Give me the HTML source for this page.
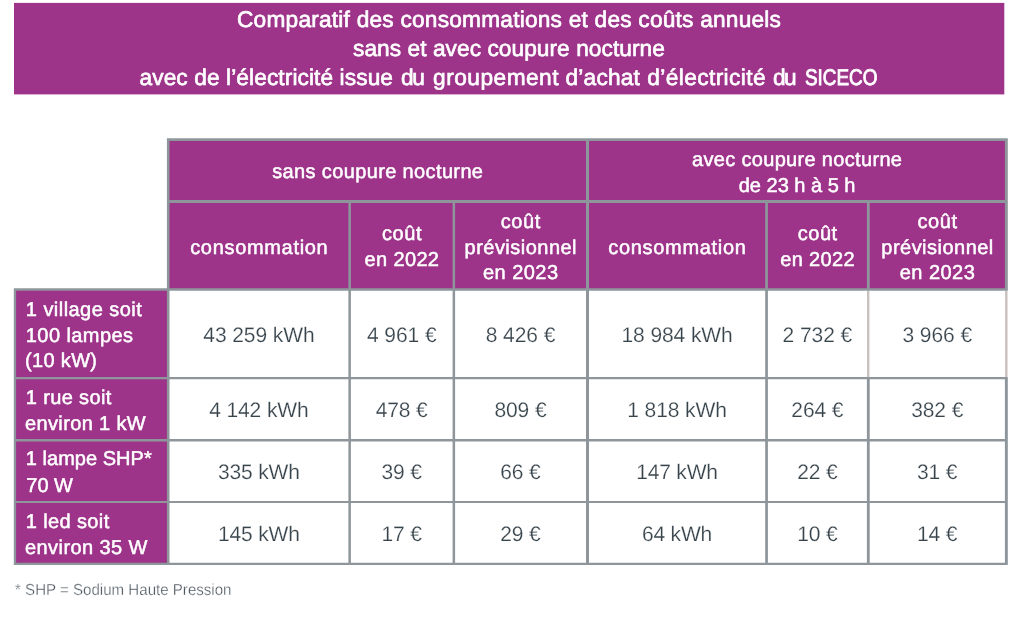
<!DOCTYPE html>
<html lang="fr"><head><meta charset="utf-8"><title>Comparatif des consommations</title>
<style>
html,body{margin:0;padding:0;background:#fff}
body{width:1024px;height:623px;position:relative;overflow:hidden;font-family:"Liberation Sans",sans-serif}
svg{position:absolute;left:0;top:0}
.t{position:absolute;white-space:nowrap;margin:0;text-rendering:geometricPrecision}
.ti{color:#fff;-webkit-text-stroke:0.65px #fff}
.hd,.rh{color:#fff;-webkit-text-stroke:0.5px #fff}
.da{color:#38444c;-webkit-text-stroke:0.2px #fff}
.fn{color:#48535b;-webkit-text-stroke:0.3px #fff}
</style></head><body>
<svg width="1024" height="623" viewBox="0 0 1024 623">
<rect x="14" y="2.9" width="990.3" height="91.5" fill="#9d348a"/>
<rect x="168" y="139.5" width="838" height="150" fill="#9d348a"/>
<rect x="15" y="289" width="153" height="274.5" fill="#9d348a"/>
<rect x="867.0" y="290.8" width="2.4" height="86.20" fill="#c9c1c0"/>
<rect x="1005.1" y="290.8" width="2.4" height="86.20" fill="#c9c1c0"/>
<path fill="#8e969b" d="M13.8 288.2H16.1V565H13.8ZM166.9 138.3H169.5V565H166.9ZM586 138.3H589V565H586ZM348.4 199.95H350.9V565H348.4ZM452.6 199.95H455.1V565H452.6ZM765.2 199.95H767.9V565H765.2ZM866.9 199.95H869.7V290.8H866.9ZM866.9 377H869.7V565H866.9ZM1004.9 138.3H1007.8V290.8H1004.9ZM1004.9 377H1007.8V565H1004.9ZM166.9 138.3H1007.8V140.9H166.9ZM166.9 199.95H1007.8V202.9H166.9ZM13.8 288.2H1007.8V290.8H13.8ZM13.8 377H1007.8V379.2H13.8ZM13.8 439.1H1007.8V441.4H13.8ZM13.8 500.9H1007.8V503H13.8ZM13.8 562.7H1007.8V565H13.8Z"/>
</svg>
<div class="t ti" style="left:237.00px;top:6px;font-size:22.7px;line-height:27px;letter-spacing:0.219px;">Comparatif des consommations et des coûts annuels</div>
<div class="t ti" style="left:353.00px;top:35px;font-size:22.7px;line-height:27px;letter-spacing:0.056px;">sans et avec coupure nocturne</div>
<div class="t ti" style="left:139.50px;top:64px;font-size:22.7px;line-height:27px;letter-spacing:0.097px;">avec de l’électricité issue</div>
<div class="t ti" style="left:401.00px;top:64px;font-size:22.7px;line-height:27px;letter-spacing:-1.250px;">du</div>
<div class="t ti" style="left:433.10px;top:64px;font-size:22.7px;line-height:27px;letter-spacing:0.483px;">groupement</div>
<div class="t ti" style="left:565.50px;top:64px;font-size:22.7px;line-height:27px;letter-spacing:0.200px;">d’achat</div>
<div class="t ti" style="left:647.25px;top:64px;font-size:22.7px;line-height:27px;letter-spacing:0.400px;">d’électricité</div>
<div class="t ti" style="left:773.00px;top:64px;font-size:22.7px;line-height:27px;letter-spacing:-1.500px;">du</div>
<div class="t ti" style="left:805.10px;top:64px;font-size:22.7px;line-height:27px;letter-spacing:0.000px;-webkit-text-stroke-width:0.85px;transform-origin:0 0;transform:scaleX(0.8330);">SICECO</div>
<div class="t hd" style="left:272.25px;top:160px;font-size:20px;line-height:24px;letter-spacing:0.364px;">sans coupure nocturne</div>
<div class="t hd" style="left:692.00px;top:148px;font-size:20px;line-height:24px;letter-spacing:0.326px;">avec coupure nocturne</div>
<div class="t hd" style="left:738.75px;top:174px;font-size:20px;line-height:24px;letter-spacing:-0.002px;">de 23 h à 5 h</div>
<div class="t hd" style="left:190.20px;top:236px;font-size:20px;line-height:24px;letter-spacing:0.676px;">consommation</div>
<div class="t hd" style="left:608.35px;top:236px;font-size:20px;line-height:24px;letter-spacing:0.676px;">consommation</div>
<div class="t hd" style="left:382.00px;top:222px;font-size:20px;line-height:24px;letter-spacing:0.565px;">coût</div>
<div class="t hd" style="left:364.50px;top:248px;font-size:20px;line-height:24px;letter-spacing:0.367px;">en 2022</div>
<div class="t hd" style="left:797.65px;top:222px;font-size:20px;line-height:24px;letter-spacing:0.565px;">coût</div>
<div class="t hd" style="left:780.15px;top:248px;font-size:20px;line-height:24px;letter-spacing:0.367px;">en 2022</div>
<div class="t hd" style="left:500.80px;top:210px;font-size:20px;line-height:24px;letter-spacing:0.565px;">coût</div>
<div class="t hd" style="left:464.55px;top:236px;font-size:20px;line-height:24px;letter-spacing:0.479px;">prévisionnel</div>
<div class="t hd" style="left:483.05px;top:261px;font-size:20px;line-height:24px;letter-spacing:0.450px;">en 2023</div>
<div class="t hd" style="left:917.55px;top:210px;font-size:20px;line-height:24px;letter-spacing:0.565px;">coût</div>
<div class="t hd" style="left:881.30px;top:236px;font-size:20px;line-height:24px;letter-spacing:0.479px;">prévisionnel</div>
<div class="t hd" style="left:899.80px;top:261px;font-size:20px;line-height:24px;letter-spacing:0.450px;">en 2023</div>
<div class="t rh" style="left:25.80px;top:298px;font-size:20px;line-height:24px;letter-spacing:0.453px;">1 village soit</div>
<div class="t rh" style="left:25.80px;top:324px;font-size:20px;line-height:24px;letter-spacing:0.422px;">100 lampes</div>
<div class="t rh" style="left:25.00px;top:349px;font-size:20px;line-height:24px;letter-spacing:0.333px;">(10 kW)</div>
<div class="t rh" style="left:25.80px;top:386px;font-size:20px;line-height:24px;letter-spacing:0.353px;">1 rue soit</div>
<div class="t rh" style="left:25.00px;top:412px;font-size:20px;line-height:24px;letter-spacing:0.367px;">environ 1 kW</div>
<div class="t rh" style="left:25.80px;top:447px;font-size:20px;line-height:24px;letter-spacing:0.030px;">1 lampe SHP*</div>
<div class="t rh" style="left:26.25px;top:474px;font-size:20px;line-height:24px;letter-spacing:0.023px;">70 W</div>
<div class="t rh" style="left:25.80px;top:510px;font-size:20px;line-height:24px;letter-spacing:0.378px;">1 led soit</div>
<div class="t rh" style="left:25.00px;top:536px;font-size:20px;line-height:24px;letter-spacing:0.424px;">environ 35 W</div>
<div class="t da" style="left:203.33px;top:323px;font-size:21px;line-height:25px;letter-spacing:-0.093px;">43 259 kWh</div>
<div class="t da" style="left:366.88px;top:323px;font-size:21px;line-height:25px;letter-spacing:-0.056px;">4 961 €</div>
<div class="t da" style="left:485.68px;top:323px;font-size:21px;line-height:25px;letter-spacing:-0.056px;">8 426 €</div>
<div class="t da" style="left:621.48px;top:323px;font-size:21px;line-height:25px;letter-spacing:-0.093px;">18 984 kWh</div>
<div class="t da" style="left:782.53px;top:323px;font-size:21px;line-height:25px;letter-spacing:-0.056px;">2 732 €</div>
<div class="t da" style="left:902.43px;top:323px;font-size:21px;line-height:25px;letter-spacing:-0.056px;">3 966 €</div>
<div class="t da" style="left:209.15px;top:398px;font-size:21px;line-height:25px;letter-spacing:-0.098px;">4 142 kWh</div>
<div class="t da" style="left:375.72px;top:398px;font-size:21px;line-height:25px;letter-spacing:-0.126px;">478 €</div>
<div class="t da" style="left:494.52px;top:398px;font-size:21px;line-height:25px;letter-spacing:-0.126px;">809 €</div>
<div class="t da" style="left:627.30px;top:398px;font-size:21px;line-height:25px;letter-spacing:-0.098px;">1 818 kWh</div>
<div class="t da" style="left:791.37px;top:398px;font-size:21px;line-height:25px;letter-spacing:-0.126px;">264 €</div>
<div class="t da" style="left:911.27px;top:398px;font-size:21px;line-height:25px;letter-spacing:-0.126px;">382 €</div>
<div class="t da" style="left:217.99px;top:460px;font-size:21px;line-height:25px;letter-spacing:-0.158px;">335 kWh</div>
<div class="t da" style="left:381.54px;top:460px;font-size:21px;line-height:25px;letter-spacing:-0.149px;">39 €</div>
<div class="t da" style="left:500.34px;top:460px;font-size:21px;line-height:25px;letter-spacing:-0.149px;">66 €</div>
<div class="t da" style="left:636.14px;top:460px;font-size:21px;line-height:25px;letter-spacing:-0.158px;">147 kWh</div>
<div class="t da" style="left:797.19px;top:460px;font-size:21px;line-height:25px;letter-spacing:-0.149px;">22 €</div>
<div class="t da" style="left:917.09px;top:460px;font-size:21px;line-height:25px;letter-spacing:-0.149px;">31 €</div>
<div class="t da" style="left:217.99px;top:522px;font-size:21px;line-height:25px;letter-spacing:-0.158px;">145 kWh</div>
<div class="t da" style="left:381.54px;top:522px;font-size:21px;line-height:25px;letter-spacing:-0.149px;">17 €</div>
<div class="t da" style="left:500.34px;top:522px;font-size:21px;line-height:25px;letter-spacing:-0.149px;">29 €</div>
<div class="t da" style="left:641.95px;top:522px;font-size:21px;line-height:25px;letter-spacing:-0.178px;">64 kWh</div>
<div class="t da" style="left:797.19px;top:522px;font-size:21px;line-height:25px;letter-spacing:-0.149px;">10 €</div>
<div class="t da" style="left:917.09px;top:522px;font-size:21px;line-height:25px;letter-spacing:-0.149px;">14 €</div>
<div class="t fn" style="left:14.50px;top:581px;font-size:16px;line-height:19px;letter-spacing:0.000px;transform-origin:0 0;transform:scaleX(0.9429);">* SHP = Sodium Haute Pression</div>
</body></html>
